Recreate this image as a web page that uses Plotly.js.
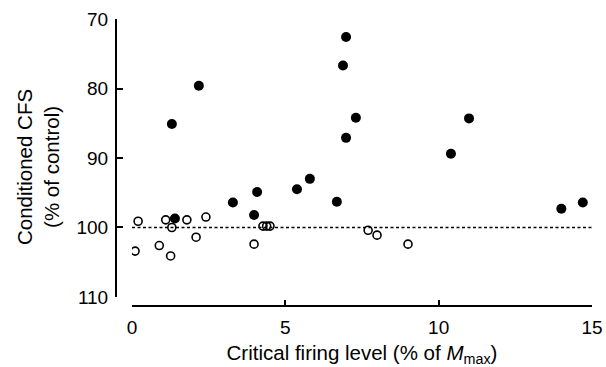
<!DOCTYPE html>
<html>
<head>
<meta charset="utf-8">
<script src="https://cdn.plot.ly/plotly-3.0.1.min.js"></script>
<style>html,body{margin:0;padding:0;background:#fff;}#chart{width:606px;height:367px;}</style>
</head>
<body>
<div id="chart"></div>
<script>
// Filled circles
const filledX = [6.98, 6.88, 2.18, 1.30, 7.30, 6.98, 10.99, 10.40, 5.80, 5.38, 4.08, 3.29, 6.68, 3.98, 1.40, 14.0, 14.7];
const filledY = [72.6, 76.7, 79.6, 85.1, 84.2, 87.1, 84.3, 89.4, 93.0, 94.5, 94.9, 96.4, 96.3, 98.2, 98.7, 97.3, 96.4];
// Open circles
const openX = [0.2, 0.1, 0.89, 1.10, 1.30, 1.26, 1.79, 2.09, 2.41, 3.98, 4.27, 4.39, 4.50, 7.7, 7.99, 9.0];
const openY = [99.1, 103.4, 102.6, 98.9, 100.0, 104.1, 98.9, 101.4, 98.5, 102.4, 99.8, 99.8, 99.8, 100.4, 101.1, 102.4];
// Reference line
const refX = [0, 15];
const refY = [100, 100];
const xTicks = [0, 5, 10, 15];
const yTicks = [70, 80, 90, 100, 110];
const xTitle = 'Critical firing level (% of <i>M</i><sub>max</sub>)';
const yTitle = 'Conditioned CFS<br>(% of control)';

const font = 'Liberation Sans, Arial, Helvetica, sans-serif';

const data = [
  {x: refX, y: refY, mode: 'lines', line: {color: '#000', width: 1.5, dash: '3px,2.5px'}, hoverinfo: 'skip'},
  {x: openX, y: openY, mode: 'markers', marker: {symbol: 'circle-open', size: 8, color: '#000', line: {width: 1.6}}},
  {x: filledX, y: filledY, mode: 'markers', marker: {symbol: 'circle', size: 10, color: '#000'}}
];

const layout = {
  width: 606, height: 367,
  margin: {l: 116, r: 14, t: 19, b: 61},
  paper_bgcolor: '#fff', plot_bgcolor: '#fff',
  showlegend: false,
  font: {family: font, size: 19, color: '#000'},
  xaxis: {
    domain: [0.0336, 1], range: [0, 15], tickvals: xTicks, ticktext: xTicks.map(String),
    showline: true, linewidth: 2, linecolor: '#000', ticks: 'inside', ticklen: 5, tickwidth: 2, tickcolor: '#000',
    showgrid: false, zeroline: false, anchor: 'free', position: 0, ticklabelstandoff: 4,
    tickfont: {size: 19},
    title: {text: xTitle, font: {size: 20.5}, standoff: 9}
  },
  yaxis: {
    domain: [0.0314, 1], range: [110, 70], tickvals: yTicks, ticktext: yTicks.map(String),
    showline: true, linewidth: 2, linecolor: '#000', ticks: 'inside', ticklen: 6, tickwidth: 2, tickcolor: '#000',
    showgrid: false, zeroline: false, anchor: 'free', position: 0, ticklabelstandoff: 3,
    tickfont: {size: 19}
  },
  annotations: [{
    text: yTitle, textangle: -90, showarrow: false,
    xref: 'paper', yref: 'paper', x: -(116 - 38) / 476, y: (306 - 167) / 287,
    xanchor: 'center', yanchor: 'middle', font: {size: 20.5, family: font, color: '#000'}
  }]
};

Plotly.newPlot('chart', data, layout, {displayModeBar: false, staticPlot: true});
</script>
</body>
</html>
